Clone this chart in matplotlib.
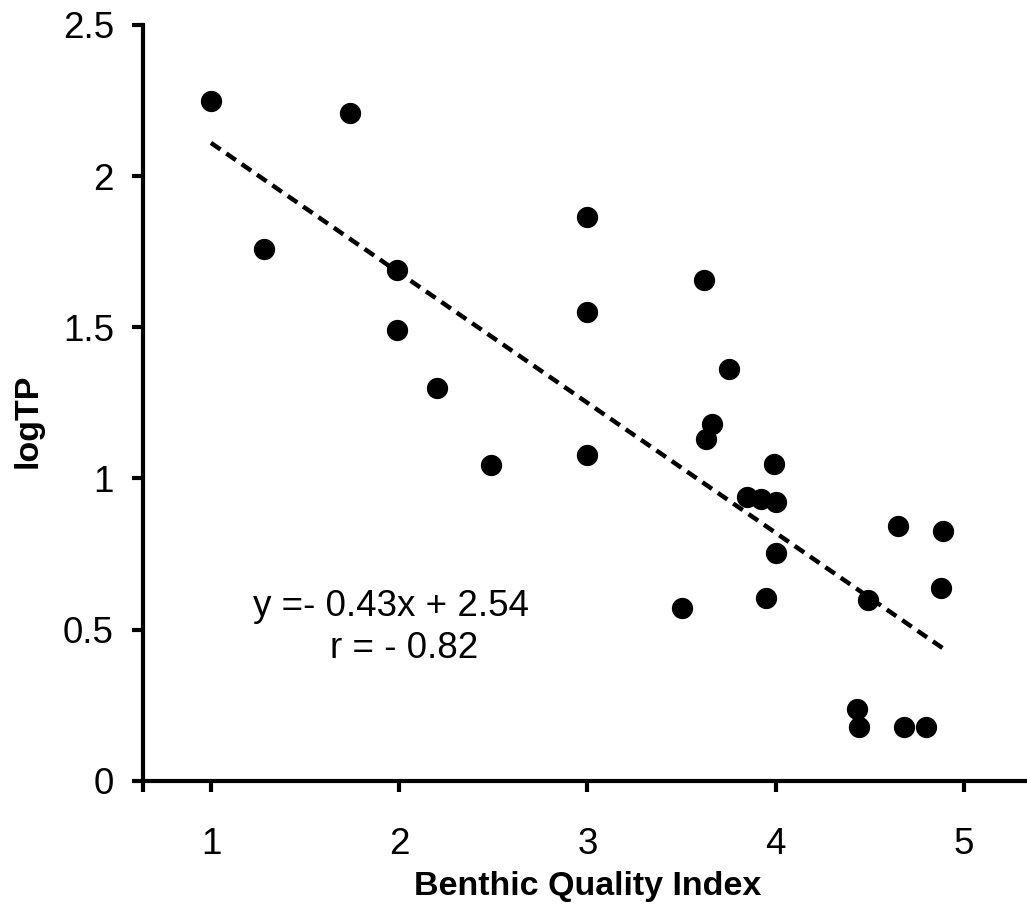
import matplotlib
matplotlib.use("Agg")
import matplotlib.pyplot as plt
import numpy as np

plt.rcParams['font.family'] = ['Liberation Sans', 'DejaVu Sans']

bqi = [1.00, 1.74, 1.28, 1.99, 1.99, 2.20, 2.49, 3.00, 3.00, 3.00,
       3.62, 3.75, 3.66, 3.63, 3.99, 3.85, 3.92, 4.00, 4.00, 3.95,
       3.50, 4.65, 4.89, 4.88, 4.49, 4.43, 4.44, 4.68, 4.80]
logtp = [2.25, 2.21, 1.76, 1.69, 1.49, 1.30, 1.045, 1.866, 1.55, 1.078,
         1.658, 1.363, 1.18, 1.13, 1.048, 0.94, 0.932, 0.922, 0.754, 0.605,
         0.571, 0.844, 0.827, 0.637, 0.598, 0.237, 0.179, 0.179, 0.179]

slope = -0.43
intercept = 2.54
eq_text = "y =- 0.43x + 2.54"
r_text = "r = - 0.82"

x_ticks = [1, 2, 3, 4, 5]
y_ticks = [0, 0.5, 1, 1.5, 2, 2.5]
y_tick_labels = ['0', '0.5', '1', '1.5', '2', '2.5']

W, H = 1027, 909
fig = plt.figure(figsize=(W/100, H/100), dpi=100)
ax = fig.add_axes([143/W, 1-780.7/H, 1-143/W, (780.7-25)/H])

xmin, xmax = 0.639, 5.335
ax.set_xlim(xmin, xmax)
ax.set_ylim(0, 2.5)

xs = np.array([min(bqi), max(bqi)])
ax.plot(xs, slope*xs + intercept, color='black', lw=3.2, dashes=(2.6, 1.6), zorder=2)
ax.plot(bqi, logtp, 'o', color='black', markersize=14.3, zorder=3, clip_on=False)

for s in ['top', 'right']:
    ax.spines[s].set_visible(False)
for s in ['left', 'bottom']:
    ax.spines[s].set_linewidth(3)

ax.set_xticks([xmin] + x_ticks)
ax.set_xticklabels([''] + [str(t) for t in x_ticks])
ax.set_yticks(y_ticks)
ax.set_yticklabels(y_tick_labels)
ax.tick_params(axis='both', direction='out', length=8, width=3, labelsize=26.5)
ax.tick_params(axis='x', pad=25)
ax.tick_params(axis='y', pad=13)

fig.text(391/W, 1-607/H, eq_text, fontsize=26.5, ha='center', va='center')
fig.text(404/W, 1-648/H, r_text, fontsize=26.5, ha='center', va='center')

fig.text(588/W, 1-886/H, 'Benthic Quality Index', fontsize=24.5, fontweight='bold', ha='center', va='center')
fig.text(28/W, 1-421/H, 'logTP', fontsize=24.5, fontweight='bold', ha='center', va='center', rotation=90)

fig.savefig('out.png', dpi=100)
